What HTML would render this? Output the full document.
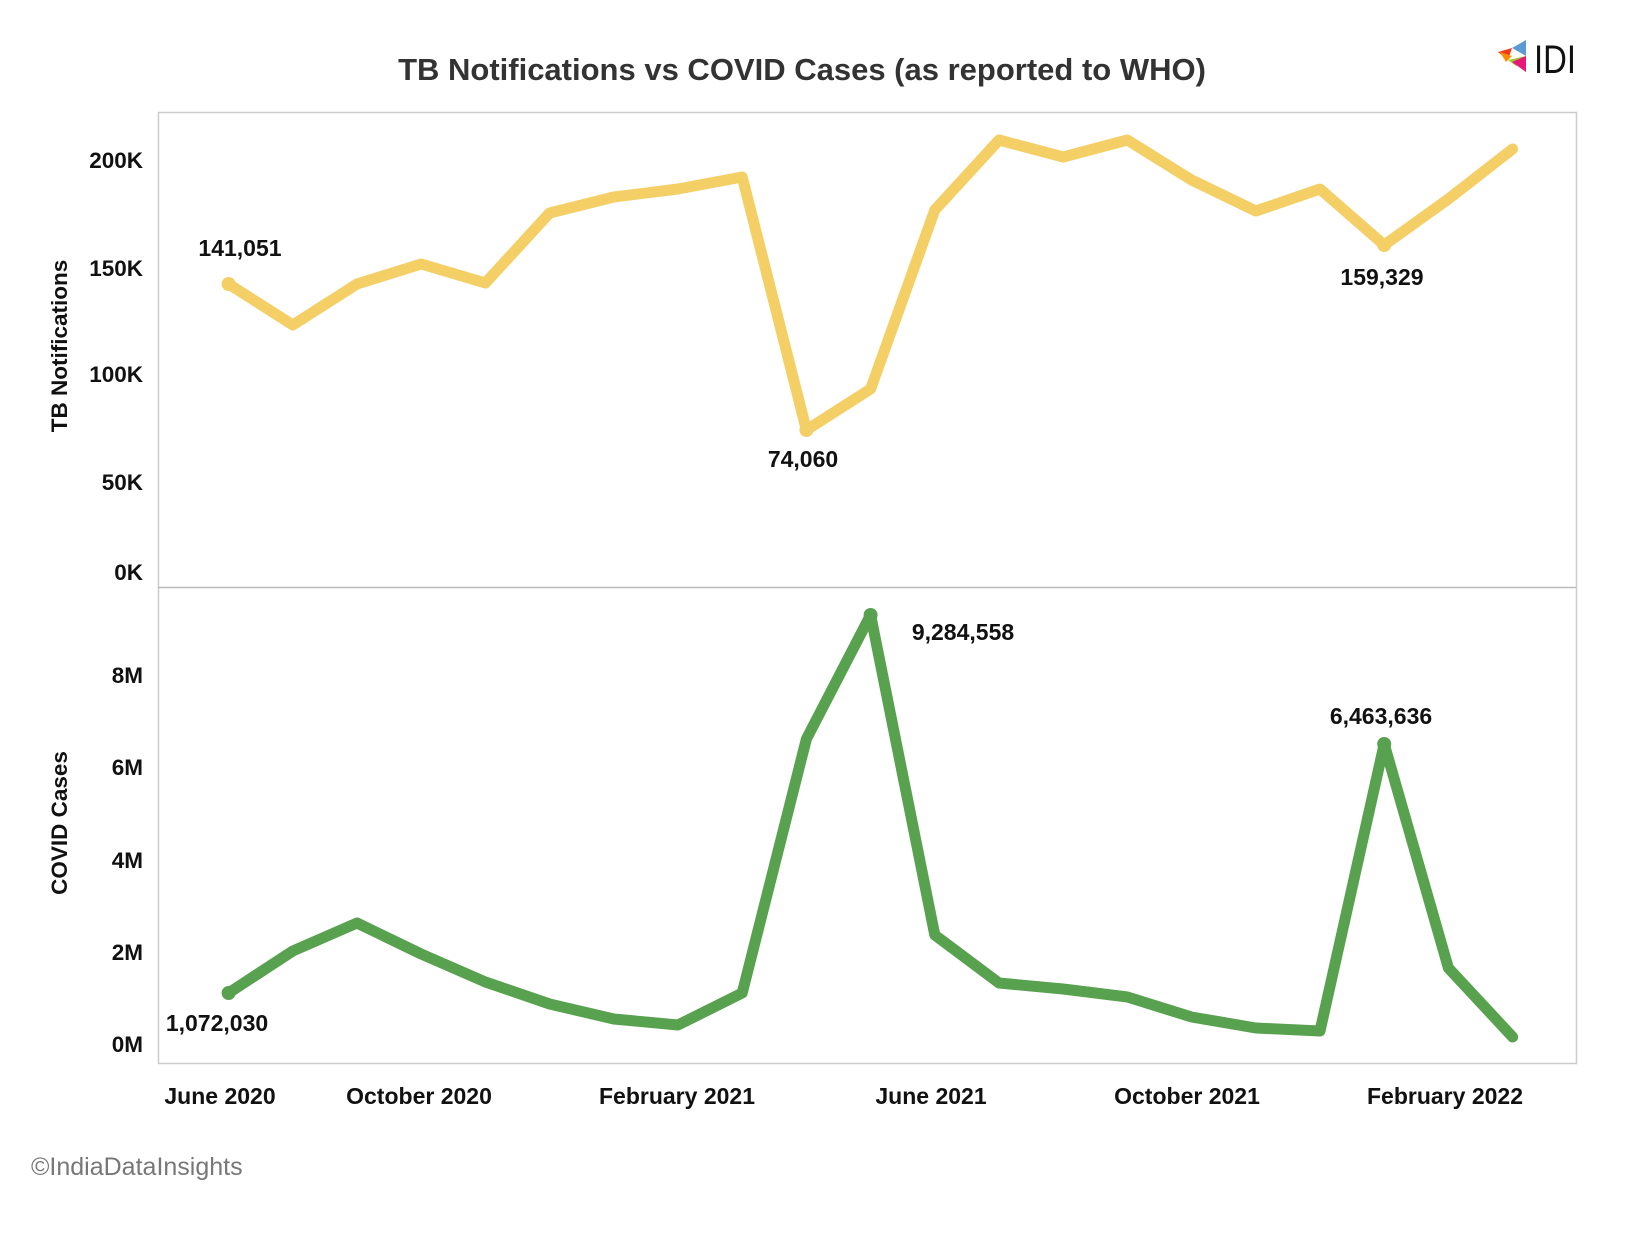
<!DOCTYPE html>
<html><head><meta charset="utf-8"><style>
html,body{margin:0;padding:0;background:#fff;}
svg{display:block;}
text{font-family:"Liberation Sans",sans-serif;}
</style></head><body>
<svg width="1644" height="1244" viewBox="0 0 1644 1244" xmlns="http://www.w3.org/2000/svg">
<rect width="1644" height="1244" fill="#fff"/>
<text x="802" y="80" text-anchor="middle" font-size="31" font-weight="bold" fill="#333">TB Notifications vs COVID Cases (as reported to WHO)</text>
<polygon points="1498,52 1512,48 1508,60" fill="#f03c1e"/>
<polygon points="1512,48 1526,40 1526,56" fill="#5b9bd5"/>
<polygon points="1508,60 1526,56 1516,66" fill="#9acd32"/>
<polygon points="1512,62 1526,56 1526,72" fill="#e6197a"/>
<polygon points="1500,52 1512,56 1506,62" fill="#ff8c00"/>
<text x="1534" y="73" font-size="40" fill="#111" textLength="42" lengthAdjust="spacingAndGlyphs">IDI</text>
<rect x="158.5" y="112.5" width="1418" height="951" fill="none" stroke="#ccc" stroke-width="1.5"/>
<line x1="158" y1="587.5" x2="1576" y2="587.5" stroke="#bbb" stroke-width="1.5"/>
<g font-size="22.5" font-weight="bold" fill="#111" text-anchor="end">
<text x="143" y="168">200K</text><text x="143" y="276">150K</text><text x="143" y="382">100K</text><text x="143" y="490">50K</text><text x="143" y="580">0K</text>
<text x="143" y="683">8M</text><text x="143" y="775">6M</text><text x="143" y="868">4M</text><text x="143" y="960">2M</text><text x="143" y="1052">0M</text>
</g>
<text transform="translate(67,346) rotate(-90)" text-anchor="middle" font-size="22.5" font-weight="bold" fill="#111">TB Notifications</text>
<text transform="translate(67,823) rotate(-90)" text-anchor="middle" font-size="22.5" font-weight="bold" fill="#111">COVID Cases</text>
<g font-size="23" font-weight="bold" fill="#111" text-anchor="middle">
<text x="220" y="1104">June 2020</text><text x="419" y="1104">October 2020</text><text x="677" y="1104">February 2021</text><text x="931" y="1104">June 2021</text><text x="1187" y="1104">October 2021</text><text x="1445" y="1104">February 2022</text>
</g>
<polyline fill="none" stroke="#f4cf66" stroke-width="11" stroke-linejoin="round" stroke-linecap="round" points="228.6,284 292.8,325 357,284 421.2,264 485.4,283 549.6,213 613.8,197 678,189 742.2,177 806.4,430 870.6,389 934.8,210 999,140 1063.2,157 1127.4,140 1191.6,180 1255.8,211 1320,189 1384.2,245 1448.4,199 1512.6,149"/>
<circle cx="228.6" cy="284" r="7" fill="#f4cf66"/><circle cx="806.4" cy="430" r="7" fill="#f4cf66"/><circle cx="1384.2" cy="245" r="7" fill="#f4cf66"/>
<polyline fill="none" stroke="#58a24f" stroke-width="11" stroke-linejoin="round" stroke-linecap="round" points="228.6,993 292.8,951 357,923 421.2,954 485.4,982 549.6,1004 613.8,1019 678,1025 742.2,993 806.4,739 870.6,615 934.8,935 999,983 1063.2,989 1127.4,997 1191.6,1017 1255.8,1028 1320,1031 1384.2,744 1448.4,968 1512.6,1037"/>
<circle cx="228.6" cy="993" r="7" fill="#58a24f"/><circle cx="870.6" cy="615" r="7" fill="#58a24f"/><circle cx="1384.2" cy="744" r="7" fill="#58a24f"/>
<g font-size="23" font-weight="bold" fill="#111" text-anchor="middle">
<text x="240" y="256">141,051</text><text x="803" y="467">74,060</text><text x="1382" y="285">159,329</text>
<text x="963" y="640">9,284,558</text><text x="1381" y="724">6,463,636</text><text x="217" y="1031">1,072,030</text>
</g>
<text x="31" y="1175" font-size="25" fill="#777">©IndiaDataInsights</text>
</svg>
</body></html>
